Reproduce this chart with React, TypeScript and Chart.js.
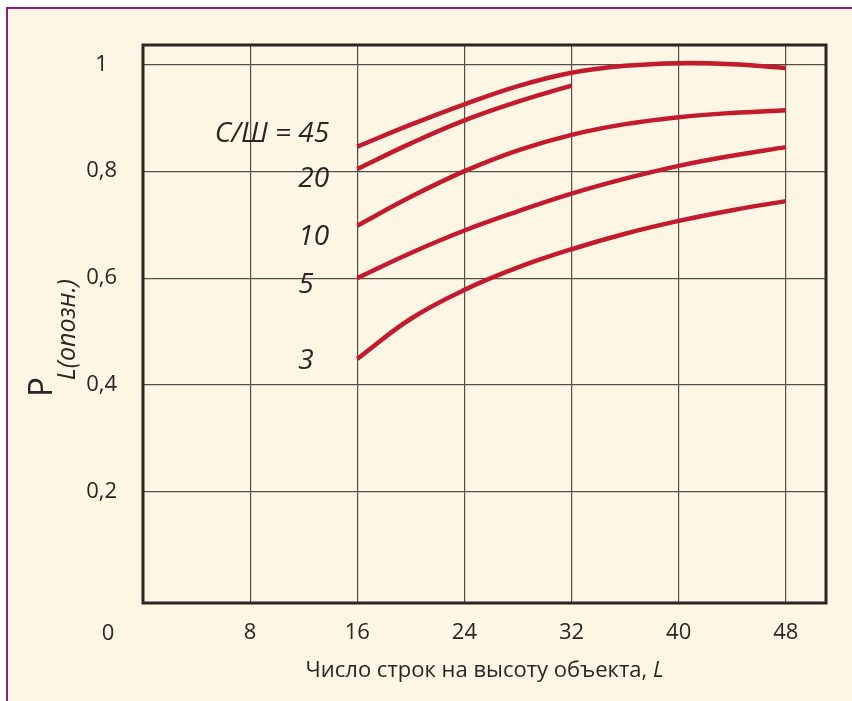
import React, { useEffect, useRef } from 'react';
import { Chart, registerables } from 'chart.js';

Chart.register(...registerables);

// Number of scan lines across the object height, L
const L_VALUES = [16, 20, 24, 28, 32, 36, 40, 44, 48];

// Recognition probability for each signal-to-noise ratio
const P_SNR45 = [0.846, 0.887, 0.925, 0.959, 0.984, 0.997, 1.002, 1.0, 0.993];
const P_SNR20 = [0.804, 0.852, 0.895, 0.93, 0.96];
const P_SNR10 = [0.698, 0.752, 0.8, 0.839, 0.868, 0.888, 0.901, 0.909, 0.914];
const P_SNR5 = [0.6, 0.647, 0.689, 0.725, 0.758, 0.786, 0.81, 0.829, 0.845];
const P_SNR3 = [0.449, 0.524, 0.578, 0.62, 0.654, 0.683, 0.707, 0.727, 0.744];

const SNR_NAMES = ['45', '20', '10', '5', '3'];
const SNR_LABEL_L = 11.6;
const SNR_LABEL_P = [0.87, 0.785, 0.677, 0.587, 0.445];

const X_TICKS = [8, 16, 24, 32, 40, 48];
const Y_TICKS = [0.2, 0.4, 0.6, 0.8, 1];

const X_TITLE = 'Число строк на высоту объекта, ';
const X_TITLE_VAR = 'L';
const Y_TITLE_MAIN = 'P';
const Y_TITLE_SUB = 'L(опозн.)';
const SNR_PREFIX = 'С/Ш = ';

const FONT = "'Open Sans', sans-serif";
const INK = '#2a2624';
const RED = '#c41a2e';
const GRID = '#55504b';

const toPoints = (ys: number[]) => ys.map((y, i) => ({ x: L_VALUES[i], y }));

const decorPlugin = {
  id: 'decor',
  beforeDatasetsDraw(chart: any) {
    const { ctx, chartArea } = chart;
    ctx.save();
    ctx.strokeStyle = INK;
    ctx.lineWidth = 3;
    ctx.strokeRect(chartArea.left, chartArea.top, chartArea.right - chartArea.left, chartArea.bottom - chartArea.top);
    ctx.restore();
  },
  afterDraw(chart: any) {
    const { ctx, chartArea, scales } = chart;
    const xs = scales.x;
    const ys = scales.y;
    ctx.save();
    ctx.fillStyle = INK;

    // origin label
    ctx.font = `22px ${FONT}`;
    ctx.textAlign = 'center';
    ctx.textBaseline = 'middle';
    ctx.fillText('0', chartArea.left - 35, chartArea.bottom + 31);

    // curve labels
    ctx.font = `italic 28px ${FONT}`;
    ctx.textBaseline = 'middle';
    SNR_NAMES.forEach((name, i) => {
      const px = xs.getPixelForValue(SNR_LABEL_L);
      const py = ys.getPixelForValue(SNR_LABEL_P[i]);
      ctx.textAlign = 'left';
      ctx.fillText(name, px, py);
      if (i === 0) {
        ctx.textAlign = 'right';
        ctx.fillText(SNR_PREFIX, px, py);
      }
    });

    // x axis title
    ctx.textBaseline = 'alphabetic';
    ctx.textAlign = 'left';
    ctx.font = `22px ${FONT}`;
    const w1 = ctx.measureText(X_TITLE).width;
    ctx.font = `italic 22px ${FONT}`;
    const w2 = ctx.measureText(X_TITLE_VAR).width;
    const cx = (chartArea.left + chartArea.right) / 2;
    const by = chartArea.bottom + 74;
    const start = cx - (w1 + w2) / 2;
    ctx.font = `22px ${FONT}`;
    ctx.fillText(X_TITLE, start, by);
    ctx.font = `italic 22px ${FONT}`;
    ctx.fillText(X_TITLE_VAR, start + w1, by);

    // y axis title
    ctx.translate(chartArea.left - 91, 397);
    ctx.rotate(-Math.PI / 2);
    ctx.font = `33px ${FONT}`;
    ctx.fillText(Y_TITLE_MAIN, 0, 0);
    const pw = ctx.measureText(Y_TITLE_MAIN).width;
    ctx.font = `italic 25px ${FONT}`;
    ctx.fillText(Y_TITLE_SUB, pw - 3, 23);
    ctx.restore();
  },
};

export default function App() {
  const canvasRef = useRef<HTMLCanvasElement | null>(null);

  useEffect(() => {
    document.body.style.margin = '0';
    const canvas = canvasRef.current;
    if (!canvas) return;
    const lineStyle = {
      borderColor: RED,
      backgroundColor: RED,
      borderWidth: 4.5,
      pointRadius: 0,
      tension: 0.4,
      fill: false,
    };
    const chart = new Chart(canvas, {
      type: 'line',
      data: {
        datasets: [
          { label: 'С/Ш = 45', data: toPoints(P_SNR45), ...lineStyle },
          { label: 'С/Ш = 20', data: toPoints(P_SNR20), ...lineStyle },
          { label: 'С/Ш = 10', data: toPoints(P_SNR10), ...lineStyle },
          { label: 'С/Ш = 5', data: toPoints(P_SNR5), ...lineStyle },
          { label: 'С/Ш = 3', data: toPoints(P_SNR3), ...lineStyle },
        ],
      },
      options: {
        responsive: false,
        animation: false,
        devicePixelRatio: 1,
        layout: { padding: { left: 0, top: 45, right: 26, bottom: 0 } },
        plugins: { legend: { display: false }, tooltip: { enabled: false } },
        scales: {
          x: {
            type: 'linear',
            min: 0,
            max: 51,
            afterFit: (s: any) => {
              s.height = 98;
            },
            afterBuildTicks: (s: any) => {
              s.ticks = X_TICKS.map((v) => ({ value: v }));
            },
            grid: { color: GRID, lineWidth: 1.2, drawTicks: false },
            border: { display: false },
            ticks: {
              color: INK,
              font: { family: FONT, size: 22 },
              padding: 17,
              maxRotation: 0,
              autoSkip: false,
            },
          },
          y: {
            type: 'linear',
            min: -0.0077,
            max: 1.036,
            afterFit: (s: any) => {
              s.width = 143;
            },
            afterBuildTicks: (s: any) => {
              s.ticks = Y_TICKS.map((v) => ({ value: v }));
            },
            grid: { color: GRID, lineWidth: 1.2, drawTicks: false },
            border: { display: false },
            ticks: {
              color: INK,
              font: { family: FONT, size: 22 },
              padding: 26,
              crossAlign: 'center',
              callback: (v: any) => {
                const n = Number(v);
                return n === 1 ? '1' : n.toFixed(1).replace('.', ',');
              },
            },
          },
        },
      },
      plugins: [decorPlugin],
    });
    return () => chart.destroy();
  }, []);

  return (
    <div style={{ position: 'relative', width: 852, height: 701, background: '#ffffff', overflow: 'hidden' }}>
      <div
        style={{
          position: 'absolute',
          left: 6,
          top: 7,
          right: 0,
          bottom: 0,
          background: '#fdf6e4',
          borderLeft: '2px solid #8a1f80',
          borderTop: '2px solid #8a1f80',
        }}
      />
      <canvas ref={canvasRef} width={852} height={701} style={{ position: 'absolute', left: 0, top: 0 }} />
    </div>
  );
}
